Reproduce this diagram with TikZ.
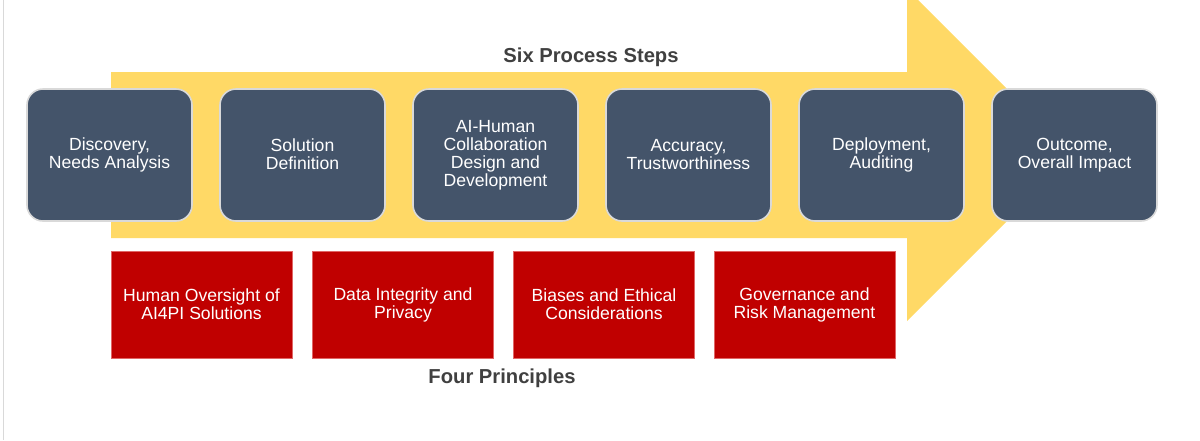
\documentclass[tikz,border=0pt]{standalone}
\usepackage{fontspec}
\setmainfont{Liberation Sans}
\definecolor{arrowY}{HTML}{FFD966}
\definecolor{stepF}{HTML}{44546A}
\definecolor{stepB}{HTML}{D9D9D9}
\definecolor{prinF}{HTML}{C00000}
\definecolor{prinB}{HTML}{E06666}
\definecolor{titleC}{HTML}{404040}
\newcommand{\boxstrut}{\vrule height 17pt depth 1pt width 0pt}
\begin{document}
\begin{tikzpicture}[x=1pt,y=-1pt,
  boxtext/.style={text=white,align=center,inner sep=0pt,
    font=\fontsize{17.6}{18}\selectfont,
    execute at begin node=\boxstrut, execute at end node=\boxstrut},
  stepbox/.style={boxtext,draw=stepB,line width=1.6pt,fill=stepF,rounded corners=16pt,
    minimum width=165pt,minimum height=132pt},
  prinbox/.style={boxtext,draw=prinB,line width=0.8pt,fill=prinF,
    minimum width=181pt,minimum height=107pt},
  titletext/.style={text=titleC,font=\bfseries\fontsize{20.2}{22}\selectfont}]
\useasboundingbox (0,0) rectangle (1200,440);
\fill[white] (0,0) rectangle (1200,440);
\draw[stepB,line width=1pt] (3,0) -- (3,440);
% big arrow
\fill[arrowY] (111,72) -- (907,72) -- (907,-11) -- (1073,155) -- (907,321) -- (907,238) -- (111,238) -- cycle;
\node[titletext] (t1) at (591,57) {Six Process Steps};
\node[stepbox] (s1) at (109.5,155) {Discovery,\\Needs Analysis};
\node[stepbox] (s2) at (302.5,155) {Solution\\Definition};
\node[stepbox] (s3) at (495.5,155) {AI-Human\\Collaboration\\Design and\\Development};
\node[stepbox] (s4) at (688.5,155) {Accuracy,\\Trustworthiness};
\node[stepbox] (s5) at (881.5,155) {Deployment,\\Auditing};
\node[stepbox] (s6) at (1074.5,155) {Outcome,\\Overall Impact};
\node[prinbox] (p1) at (201.5,304.5) {Human Oversight of\\AI4PI Solutions};
\node[prinbox] (p2) at (403,304.5) {Data Integrity and\\Privacy};
\node[prinbox] (p3) at (604,304.5) {Biases and Ethical\\Considerations};
\node[prinbox] (p4) at (804.5,304.5) {Governance and\\Risk Management};
\node[titletext] (t2) at (502,378) {Four Principles};
\end{tikzpicture}
\end{document}
